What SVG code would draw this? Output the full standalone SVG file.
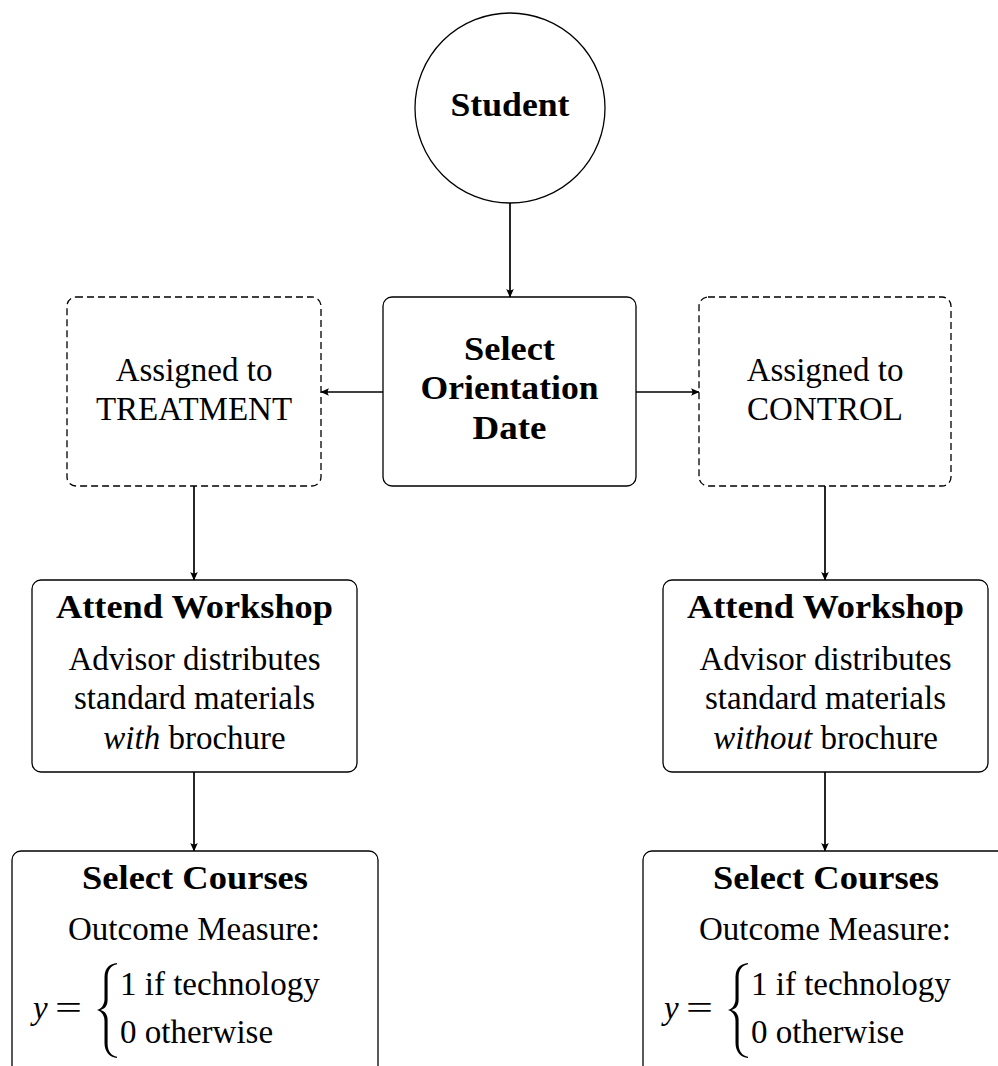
<svg xmlns="http://www.w3.org/2000/svg" width="998" height="1066" viewBox="0 0 998 1066">
<defs>
<style>
.box{fill:#fff;stroke:#000;stroke-width:1.3}
.dash{fill:#fff;stroke:#000;stroke-width:1.3;stroke-dasharray:7 4}
.t{font-family:"Liberation Serif","Times New Roman",serif;font-size:33px;fill:#000;text-anchor:middle}
.b{font-weight:bold}
.m{font-family:"Liberation Serif","Times New Roman",serif;font-size:33px;fill:#000}
.conn{stroke:#000;stroke-width:1.7;fill:none;marker-end:url(#arr)}
.brace{fill:#000;stroke:none}
</style>
<marker id="arr" markerWidth="12" markerHeight="12" refX="10" refY="6" orient="auto" markerUnits="userSpaceOnUse">
<path d="M10.5,6 L2,2.2 Q4.8,6 2,9.8 Z" fill="#000"/>
</marker>
<path id="brace" class="brace" d="M117,963 C110,963.5 104.5,968 104.5,977 L104.5,999 C104.5,1005 101,1009 97,1010 C101,1011 104.5,1015 104.5,1021 L104.5,1043 C104.5,1052 110,1057.5 117,1058 L117,1056.8 C112,1056 107.6,1052 107.6,1044 L107.6,1020 C107.6,1014 104.5,1011 100.5,1010 C104.5,1009 107.6,1006 107.6,1000 L107.6,977 C107.6,969 112,965 117,964.2 Z"/>
</defs>
<rect width="998" height="1066" fill="#fff"/>

<g id="connectors">
<line class="conn" x1="510" y1="203" x2="510" y2="297"/>
<line class="conn" x1="383" y1="392" x2="321" y2="392"/>
<line class="conn" x1="636" y1="392" x2="699" y2="392"/>
<line class="conn" x1="194" y1="486" x2="194" y2="580"/>
<line class="conn" x1="825" y1="486" x2="825" y2="580"/>
<line class="conn" x1="194" y1="772" x2="194" y2="851"/>
<line class="conn" x1="825" y1="772" x2="825" y2="851"/>
</g>

<g id="student">
<circle class="box" cx="510" cy="108" r="95"/>
<text class="t b" x="510" y="116" textLength="119" lengthAdjust="spacingAndGlyphs">Student</text>
</g>

<g id="select-orientation">
<rect class="box" x="383" y="297" width="253" height="189" rx="9"/>
<text class="t b" x="509.5" y="360" textLength="91" lengthAdjust="spacingAndGlyphs">Select</text>
<text class="t b" x="509.5" y="399" textLength="178" lengthAdjust="spacingAndGlyphs">Orientation</text>
<text class="t b" x="509.5" y="439" textLength="74" lengthAdjust="spacingAndGlyphs">Date</text>
</g>

<g id="treatment">
<rect class="dash" x="67" y="297" width="254" height="189" rx="9"/>
<text class="t" x="194" y="381">Assigned to</text>
<text class="t" x="194" y="420">TREATMENT</text>
</g>

<g id="control">
<rect class="dash" x="699" y="297" width="252" height="189" rx="9"/>
<text class="t" x="825" y="381">Assigned to</text>
<text class="t" x="825" y="420">CONTROL</text>
</g>

<g id="workshop-treatment">
<rect class="box" x="32" y="580" width="325" height="192" rx="9"/>
<text class="t b" x="194.5" y="618" textLength="277" lengthAdjust="spacingAndGlyphs">Attend Workshop</text>
<text class="t" x="194.5" y="670">Advisor distributes</text>
<text class="t" x="194.5" y="709">standard materials</text>
<text class="t" x="194.5" y="749"><tspan font-style="italic">with</tspan> brochure</text>
</g>

<g id="workshop-control">
<rect class="box" x="663" y="580" width="325" height="192" rx="9"/>
<text class="t b" x="825.5" y="618" textLength="277" lengthAdjust="spacingAndGlyphs">Attend Workshop</text>
<text class="t" x="825.5" y="670">Advisor distributes</text>
<text class="t" x="825.5" y="709">standard materials</text>
<text class="t" x="825.5" y="749"><tspan font-style="italic">without</tspan> brochure</text>
</g>

<g id="courses-treatment">
<rect class="box" x="12" y="851" width="366" height="225" rx="9"/>
<text class="t b" x="195" y="889" textLength="226" lengthAdjust="spacingAndGlyphs">Select Courses</text>
<text class="t" x="194" y="940">Outcome Measure:</text>
<text class="m" x="33" y="1019" font-style="italic">y</text>
<text class="m" x="55" y="1019" textLength="27" lengthAdjust="spacingAndGlyphs">=</text>
<use href="#brace"/>
<text class="m" x="120" y="995">1 if technology</text>
<text class="m" x="120" y="1043">0 otherwise</text>
</g>

<g id="courses-control">
<rect class="box" x="643" y="851" width="366" height="225" rx="9"/>
<text class="t b" x="826" y="889" textLength="226" lengthAdjust="spacingAndGlyphs">Select Courses</text>
<text class="t" x="825" y="940">Outcome Measure:</text>
<text class="m" x="664" y="1019" font-style="italic">y</text>
<text class="m" x="686" y="1019" textLength="27" lengthAdjust="spacingAndGlyphs">=</text>
<use href="#brace" x="631"/>
<text class="m" x="751" y="995">1 if technology</text>
<text class="m" x="751" y="1043">0 otherwise</text>
</g>
</svg>
